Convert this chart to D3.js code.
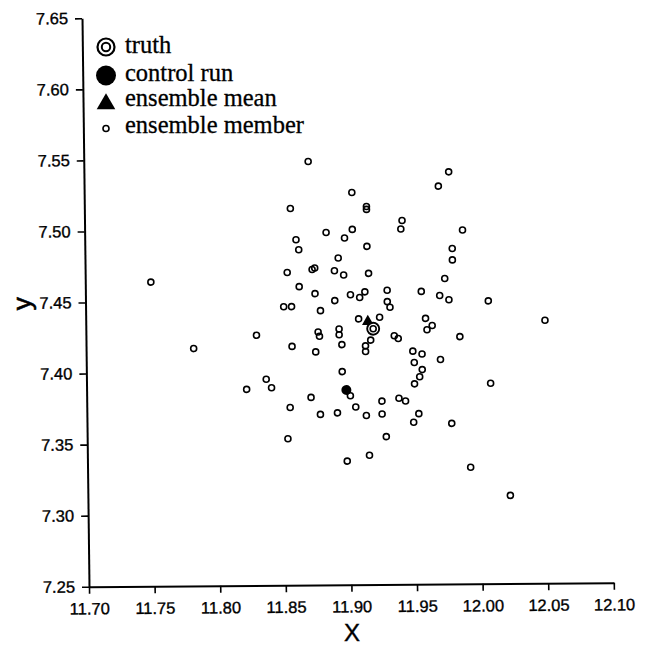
<!DOCTYPE html>
<html>
<head>
<meta charset="utf-8">
<script src="https://cdn.jsdelivr.net/npm/d3@7"></script>
<style>
  html, body { margin: 0; padding: 0; background: #fff; }
  svg { display: block; }
</style>
</head>
<body>
<svg id="chart" width="655" height="650"></svg>
<script>
// ---- data ----
const memberX = [11.871,11.857,11.884,11.861,11.863,11.854,11.873,11.875,11.750,11.863,
  11.875,11.851,11.857,11.879,11.830,11.877,11.878,11.857,11.782,11.978,
  11.970,11.904,11.915,11.915,11.942,11.941,11.988,11.904,11.898,11.915,
  11.980,11.980,11.893,11.890,11.897,11.916,11.974,11.890,11.902,11.909,
  11.913,11.930,11.930,11.932,11.956,11.970,11.977,12.007,11.908,11.924,
  11.959,11.960,11.964,12.050,11.893,11.893,11.917,11.935,11.938,11.985,
  11.895,11.913,11.913,11.875,11.949,11.956,11.970,11.950,11.956,11.954,
  11.950,11.895,12.008,11.901,11.871,11.938,11.943,11.925,11.905,11.878,
  11.891,11.913,11.925,11.953,11.949,11.978,11.928,11.915,11.898,11.992,
  12.022,11.837,11.822,11.841,11.855,11.853];
const memberY = [7.548,7.515,7.498,7.493,7.486,7.470,7.472,7.473,7.464,7.460,
  7.455,7.446,7.446,7.443,7.426,7.428,7.425,7.418,7.417,7.540,
  7.530,7.526,7.516,7.514,7.506,7.500,7.499,7.500,7.494,7.488,
  7.486,7.478,7.480,7.471,7.468,7.469,7.465,7.450,7.454,7.452,
  7.456,7.457,7.449,7.445,7.456,7.453,7.450,7.449,7.437,7.438,
  7.437,7.429,7.432,7.435,7.430,7.426,7.422,7.425,7.423,7.424,
  7.419,7.418,7.414,7.414,7.414,7.412,7.408,7.406,7.401,7.396,
  7.391,7.400,7.391,7.383,7.382,7.381,7.379,7.379,7.375,7.370,
  7.371,7.369,7.370,7.370,7.364,7.363,7.354,7.341,7.337,7.332,
  7.312,7.395,7.388,7.389,7.375,7.353];
const truthPoint = [11.919, 7.430];
const controlPoint = [11.898, 7.387];
const meanPoint = [11.915, 7.435];
const xTicks = [11.70, 11.75, 11.80, 11.85, 11.90, 11.95, 12.00, 12.05, 12.10];
const yTicks = [7.25, 7.30, 7.35, 7.40, 7.45, 7.50, 7.55, 7.60, 7.65];
const legendLabels = ["truth", "control run", "ensemble mean", "ensemble member"];
const xLabel = "X";
const yLabel = "y";

// ---- drawing ----
const svg = d3.select("#chart");
const x = d3.scaleLinear().domain([11.70, 12.10]).range([89, 613.8]);
const y = d3.scaleLinear().domain([7.25, 7.65]).range([586.7, 18.3]);

// scanned page is slightly skewed
const g = svg.append("g").attr("transform", "matrix(1,-0.0076,0.0123,1,-7.22,0.676)");

const sans = "'Liberation Sans', Arial, Helvetica, sans-serif";
const serif = "'Liberation Serif', 'Times New Roman', serif";

const xAxis = g.append("g").attr("transform", `translate(0,${y(7.25)})`)
  .call(d3.axisBottom(x).tickValues(xTicks).tickFormat(d3.format(".2f"))
    .tickSize(7).tickSizeOuter(0).tickPadding(9));
const yAxis = g.append("g").attr("transform", `translate(${x(11.70)},0)`)
  .call(d3.axisLeft(y).tickValues(yTicks).tickFormat(d3.format(".2f"))
    .tickSize(7).tickSizeOuter(0).tickPadding(7));
[xAxis, yAxis].forEach(a => {
  a.select(".domain").attr("stroke", "#000").attr("stroke-width", 2);
  a.selectAll(".tick line").attr("stroke", "#000").attr("stroke-width", 1.6);
  a.selectAll(".tick text").attr("fill", "#000").attr("stroke", "#000").attr("stroke-width", 0.35)
    .style("font-family", sans).style("font-size", "16.5px");
});

// members
g.append("g").selectAll("circle").data(memberX.map((d, i) => [d, memberY[i]]))
  .join("circle")
  .attr("cx", d => x(d[0])).attr("cy", d => y(d[1]))
  .attr("r", 3).attr("fill", "none").attr("stroke", "#000").attr("stroke-width", 1.6);

// ensemble mean
g.append("path")
  .attr("d", d3.symbol(d3.symbolTriangle).size(60)())
  .attr("transform", `translate(${x(meanPoint[0])},${y(meanPoint[1])})`)
  .attr("fill", "#000");

// truth
g.append("circle").attr("cx", x(truthPoint[0])).attr("cy", y(truthPoint[1]))
  .attr("r", 6).attr("fill", "#fff").attr("stroke", "#000").attr("stroke-width", 1.9);
g.append("circle").attr("cx", x(truthPoint[0])).attr("cy", y(truthPoint[1]))
  .attr("r", 3).attr("fill", "none").attr("stroke", "#000").attr("stroke-width", 1.6);

// control run
g.append("circle").attr("cx", x(controlPoint[0])).attr("cy", y(controlPoint[1]))
  .attr("r", 5).attr("fill", "#000");

// axis labels
svg.append("text").attr("x", 352).attr("y", 641).attr("text-anchor", "middle")
  .attr("stroke", "#000").attr("stroke-width", 0.4)
  .style("font-family", sans).style("font-size", "24px").text(xLabel);
svg.append("text").attr("transform", "translate(31,303.7) rotate(-90)").attr("text-anchor", "middle")
  .attr("stroke", "#000").attr("stroke-width", 0.6)
  .style("font-family", sans).style("font-size", "26px").text(yLabel);

// legend
const leg = svg.append("g");
const lx = 106;
const rowsY = [47, 75.5, 104, 128.5];
const baseY = [53.3, 80.7, 106.3, 133.3];
leg.append("circle").attr("cx", lx).attr("cy", rowsY[0]).attr("r", 8.5)
  .attr("fill", "none").attr("stroke", "#000").attr("stroke-width", 2.2);
leg.append("circle").attr("cx", lx).attr("cy", rowsY[0]).attr("r", 4.2)
  .attr("fill", "none").attr("stroke", "#000").attr("stroke-width", 2);
leg.append("circle").attr("cx", lx).attr("cy", rowsY[1]).attr("r", 10).attr("fill", "#000");
leg.append("path").attr("d", d3.symbol(d3.symbolTriangle).size(150)())
  .attr("transform", `translate(${lx},${rowsY[2]})`).attr("fill", "#000");
leg.append("circle").attr("cx", lx).attr("cy", rowsY[3]).attr("r", 3)
  .attr("fill", "none").attr("stroke", "#000").attr("stroke-width", 1.6);
leg.selectAll("text").data(legendLabels).join("text")
  .attr("x", 125).attr("y", (d, i) => baseY[i])
  .attr("stroke", "#000").attr("stroke-width", 0.3)
  .style("font-family", serif).style("font-size", "24.5px").attr("fill", "#000")
  .text(d => d);
</script>
</body>
</html>
